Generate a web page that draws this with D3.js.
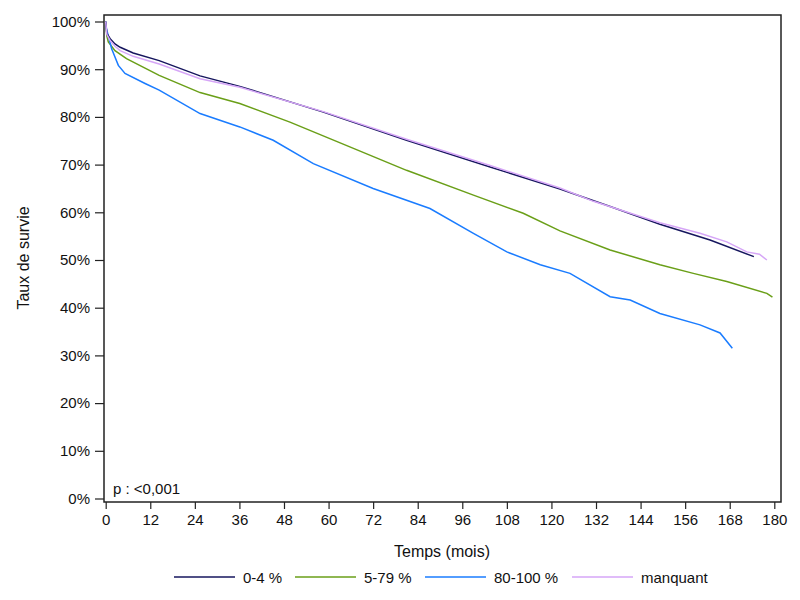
<!DOCTYPE html>
<html><head><meta charset="utf-8">
<script src="https://cdn.jsdelivr.net/npm/d3@7"></script>
<style>body{margin:0;background:#fff}svg{display:block;font-family:Arial,"Liberation Sans",sans-serif}</style>
</head><body><svg id="c" width="800" height="600"></svg>
<script>
const xTicks = [0,12,24,36,48,60,72,84,96,108,120,132,144,156,168,180];
const yTicks = [0,10,20,30,40,50,60,70,80,90,100];

const navyMonths = [0,0.3,1.2,2.5,3.9,7.4,14.4,25.4,36.1,58.6,81,103.5,122.3,135.8,149.2,162.7,174.5];
const navyValues = [100,97.5,96.4,95.3,94.6,93.4,91.8,88.6,86.4,81.0,75.1,69.5,64.9,61.2,57.5,54.2,50.7];

const greenMonths = [0,0.3,0.7,2.5,5.6,14.4,25.4,36.1,49.6,66.7,81,99,112.4,122.3,135.8,149.2,158.2,167.2,178,179.5];
const greenValues = [100,97,95.7,93.9,92.2,88.7,85.1,82.8,78.9,73.4,68.8,63.6,59.8,56.1,52.1,49.0,47.2,45.5,43.0,42.2];

const blueMonths = [0,0.2,1.6,3.4,5.2,10.6,14.4,25.4,36.1,45.1,55.9,72,87.3,99,108,117,125,135.8,141.2,149.2,160,165.4,168.7];
const blueValues = [100,98.5,94.3,90.8,89.1,87.0,85.6,80.7,77.9,75.1,70.2,65.0,60.8,55.6,51.7,49.0,47.2,42.3,41.6,38.8,36.4,34.7,31.5];

const purpleMonths = [0,0.3,1.2,2.5,3.9,7.4,14.4,25.4,36.1,58.6,81,103.5,122.3,131.3,149.2,160,167.2,172.6,176,178];
const purpleValues = [100,97.3,96.0,94.8,93.9,92.7,91.1,88.0,86.2,81.1,75.3,69.8,65.1,62.3,57.8,55.6,53.8,51.7,51.2,50.0];

const seriesNames = ["0-4 %","5-79 %","80-100 %","manquant"];
const seriesColors = ["#16165e","#6a9f18","#1a7cff","#d6a6f7"];

const series = [
  {name:seriesNames[0], color:seriesColors[0], m:navyMonths, v:navyValues},
  {name:seriesNames[1], color:seriesColors[1], m:greenMonths, v:greenValues},
  {name:seriesNames[2], color:seriesColors[2], m:blueMonths, v:blueValues},
  {name:seriesNames[3], color:seriesColors[3], m:purpleMonths, v:purpleValues}
];

const svg = d3.select("#c");
const x = d3.scaleLinear().domain([0,180]).range([105.7,774.3]);
const y = d3.scaleLinear().domain([0,100]).range([498.5,21.5]);

const frame = {l:104, t:15, r:781, b:502};

// curves (draw order: navy under purple)
const line = d3.line().x(d=>x(d[0])).y(d=>y(d[1]));
const order = [1,2,0,3];
order.forEach(i=>{
  const s = series[i];
  svg.append("path").datum(s.m.map((mm,k)=>[mm,s.v[k]]))
    .attr("d", line).attr("fill","none").attr("stroke", s.color).attr("stroke-width",1.5);
});

// frame
svg.append("rect").attr("x",frame.l).attr("y",frame.t).attr("width",frame.r-frame.l).attr("height",frame.b-frame.t)
  .attr("fill","none").attr("stroke","#222").attr("stroke-width",1.5);

// y axis
const yAxis = d3.axisLeft(y).tickValues(yTicks).tickSize(9).tickPadding(5).tickFormat(d=>d+"%");
const gy = svg.append("g").attr("transform",`translate(${frame.l},0)`).call(yAxis);
gy.select(".domain").remove();
gy.selectAll("line").attr("stroke","#222").attr("stroke-width",1.2);
gy.selectAll("text").attr("font-size",15).attr("fill","#111").attr("font-family","Arial, 'Liberation Sans', sans-serif");

// x axis
const xAxis = d3.axisBottom(x).tickValues(xTicks).tickSize(7).tickPadding(5);
const gx = svg.append("g").attr("transform",`translate(0,${frame.b})`).call(xAxis);
gx.select(".domain").remove();
gx.selectAll("line").attr("stroke","#222").attr("stroke-width",1.2);
gx.selectAll("text").attr("font-size",15).attr("fill","#111").attr("font-family","Arial, 'Liberation Sans', sans-serif");

// titles
svg.append("text").attr("x",442).attr("y",557).attr("text-anchor","middle").attr("font-size",16).attr("fill","#111").text("Temps (mois)");
svg.append("text").attr("transform","translate(29,258) rotate(-90)").attr("text-anchor","middle").attr("font-size",16).attr("fill","#111").text("Taux de survie");
svg.append("text").attr("x",113).attr("y",494).attr("font-size",15).attr("fill","#111").text("p : <0,001");

// legend
const legendX = [174,295,425,572];
series.forEach((s,i)=>{
  const g = svg.append("g").attr("transform",`translate(${legendX[i]},577)`);
  g.append("line").attr("x1",0).attr("x2",61).attr("y1",0).attr("y2",0).attr("stroke",s.color).attr("stroke-width",1.5);
  g.append("text").attr("x",69).attr("y",6).attr("font-size",15).attr("fill","#111").text(s.name);
});
</script></body></html>
